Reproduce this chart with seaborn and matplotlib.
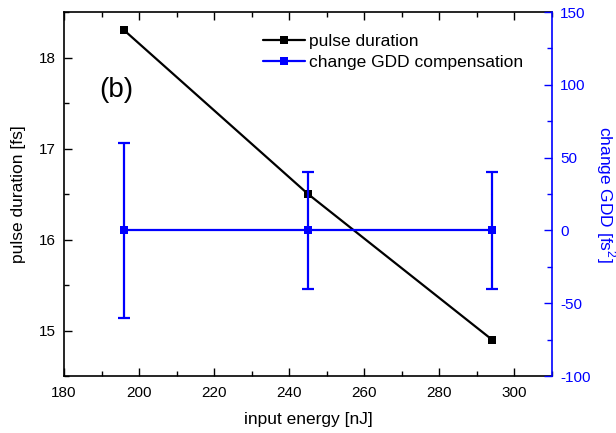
import matplotlib
matplotlib.use("Agg")
import matplotlib.pyplot as plt
import seaborn as sns
import pandas as pd
from matplotlib.ticker import MultipleLocator
from matplotlib.lines import Line2D

energy = [196, 245, 294]
pulse_duration = [18.3, 16.5, 14.9]
gdd_change = [0, 0, 0]
gdd_err = [60, 40, 40]

sns.set_style("ticks", rc={"text.color": "black", "axes.labelcolor": "black",
                           "xtick.color": "black", "ytick.color": "black",
                           "axes.edgecolor": "black"})
plt.rcParams['font.family'] = ['Liberation Sans', 'DejaVu Sans']
plt.rcParams['mathtext.fontset'] = 'custom'
plt.rcParams['mathtext.rm'] = 'Liberation Sans'
plt.rcParams['axes.unicode_minus'] = False

df = pd.DataFrame({"energy": energy, "pulse": pulse_duration, "gdd": gdd_change, "err": gdd_err})

fig = plt.figure(figsize=(6.16, 4.33), dpi=100)
ax = fig.add_axes([64/616, 1-376/433, (552-64)/616, (376-12)/433])
ax2 = ax.twinx()

blue = "#0000ff"
sns.lineplot(data=df, x="energy", y="pulse", ax=ax, color="black", marker="s",
             markersize=6, markeredgewidth=0, linewidth=1.6, legend=False)
ax2.errorbar(df["energy"], df["gdd"], yerr=df["err"], fmt="none", ecolor=blue,
             elinewidth=1.6, capsize=4, capthick=1.6)
sns.lineplot(data=df, x="energy", y="gdd", ax=ax2, color=blue, marker="s",
             markersize=6, markeredgewidth=0, linewidth=1.6, legend=False)

ax.set_xlim(180, 310)
ax.set_ylim(14.5, 18.5)
ax2.set_ylim(-100, 150)

ax.xaxis.set_major_locator(MultipleLocator(20))
ax.xaxis.set_minor_locator(MultipleLocator(10))
ax.yaxis.set_major_locator(MultipleLocator(1))
ax.yaxis.set_minor_locator(MultipleLocator(0.5))
ax2.yaxis.set_major_locator(MultipleLocator(50))
ax2.yaxis.set_minor_locator(MultipleLocator(25))

fs_tick = 11
ax.tick_params(axis="x", which="both", direction="in", top=True, bottom=True, labelsize=fs_tick, pad=7, colors="black")
ax.tick_params(axis="x", which="major", length=6, width=1)
ax.tick_params(axis="x", which="minor", length=3.5, width=1)
ax.tick_params(axis="y", which="both", direction="in", left=True, right=False, labelsize=fs_tick, pad=6, colors="black")
ax.tick_params(axis="y", which="major", length=6, width=1)
ax.tick_params(axis="y", which="minor", length=3.5, width=1)
ax2.tick_params(axis="y", which="both", direction="in", colors=blue, labelsize=fs_tick, pad=6)
ax2.tick_params(axis="y", which="major", length=6, width=1)
ax2.tick_params(axis="y", which="minor", length=3.5, width=1)

for s in ["left", "top", "bottom"]:
    ax.spines[s].set_color("black")
    ax.spines[s].set_linewidth(1.2)
ax2.spines["right"].set_color(blue)
ax2.spines["right"].set_linewidth(1.2)
for s in ["left", "top", "bottom"]:
    ax2.spines[s].set_visible(False)
ax.spines["right"].set_visible(False)

ax.set_xlabel("input energy [nJ]", fontsize=12.5, labelpad=9, color="black")
ax.set_ylabel("pulse duration [fs]", fontsize=12.5, labelpad=9, color="black")
ax2.set_ylabel("change GDD [fs$^2$]", fontsize=12.5, color=blue, rotation=-90, labelpad=19)

ax.text(0.073, 0.785, "(b)", transform=ax.transAxes, fontsize=20, va="center", ha="left", color="black")

handles = [
    Line2D([], [], color="black", marker="s", markersize=6, markeredgewidth=0, linewidth=1.6),
    Line2D([], [], color=blue, marker="s", markersize=6, markeredgewidth=0, linewidth=1.6),
]
leg = ax2.legend(handles, ["pulse duration", "change GDD compensation"], loc="upper left",
                 bbox_to_anchor=(0.408, 0.94), frameon=False, fontsize=12.5, handlelength=2.4,
                 handletextpad=0.25, labelspacing=0.35, borderaxespad=0, borderpad=0)
for t in leg.get_texts():
    t.set_color("black")

fig.savefig("out.png", dpi=100)
